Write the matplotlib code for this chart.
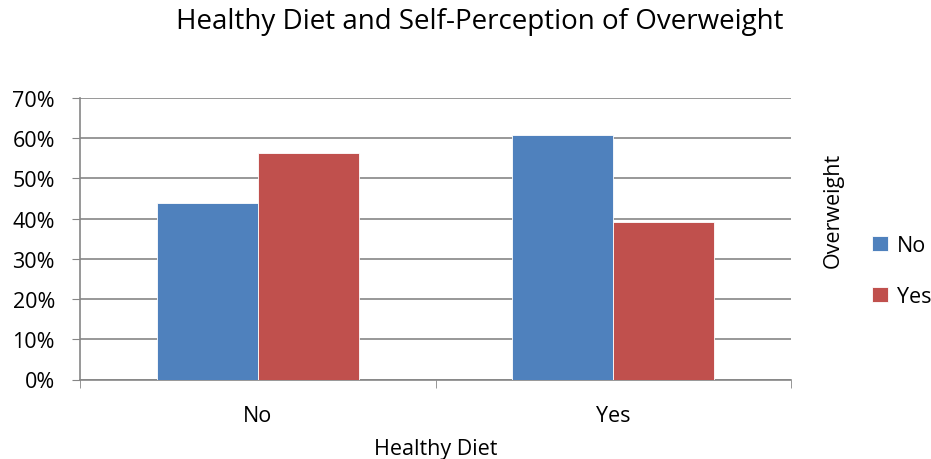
import matplotlib.pyplot as plt
import numpy as np

categories = ['No', 'Yes']
series_names = ['No', 'Yes']
overweight_no = [43.8, 60.8]
overweight_yes = [56.2, 39.2]
colors = ['#4F81BD', '#C0504D']

plt.rcParams['font.family'] = ['Open Sans', 'DejaVu Sans']

fig = plt.figure(figsize=(9.31, 4.6), dpi=100)
ax = fig.add_axes([80 / 931, 1 - 380.5 / 460, 711 / 931, 281.5 / 460])

x = np.arange(len(categories))
w = 0.284
b1 = ax.bar(x - w / 2, overweight_no, w, color=colors[0], edgecolor='white', linewidth=0.6, zorder=3)
b2 = ax.bar(x + w / 2, overweight_yes, w, color=colors[1], edgecolor='white', linewidth=0.6, zorder=3)

ax.set_xlim(-0.5, 1.5)
ax.set_ylim(0, 70)
ax.set_yticks(np.arange(0, 71, 10))
ax.set_yticklabels([f'{v}%' for v in range(0, 71, 10)], fontsize=15.5)
ax.set_xticks(x)
ax.set_xticklabels(categories, fontsize=15.5)
ax.set_xticks([-0.5, 0.5, 1.5], minor=True)
ax.tick_params(axis='x', which='major', length=0, pad=18)
ax.tick_params(axis='x', which='minor', length=6, color='#868686')
ax.tick_params(axis='y', length=6, color='#868686', pad=12)

ax.grid(axis='y', color='#868686', linewidth=1.2, zorder=0)
for s in ['top', 'right']:
    ax.spines[s].set_visible(False)
for s in ['left', 'bottom']:
    ax.spines[s].set_color('#868686')
    ax.spines[s].set_linewidth(1.2)

ax.set_xlabel('Healthy Diet', fontsize=15.5, labelpad=9)
fig.suptitle('Healthy Diet and Self-Perception of Overweight', fontsize=20, x=480 / 931, y=1 - 22 / 460, va='center')

fig.text(833 / 931, 1 - 210 / 460, 'Overweight', rotation=90, fontsize=15.5, ha='center', va='center')
leg = fig.legend([b1, b2], series_names, loc='center left', bbox_to_anchor=(872 / 931, 1 - 272 / 460),
                 frameon=False, fontsize=15.5, handlelength=0.75, handleheight=0.75, handletextpad=0.4,
                 labelspacing=1.4, borderpad=0, borderaxespad=0)

fig.savefig('out.png', dpi=100)
